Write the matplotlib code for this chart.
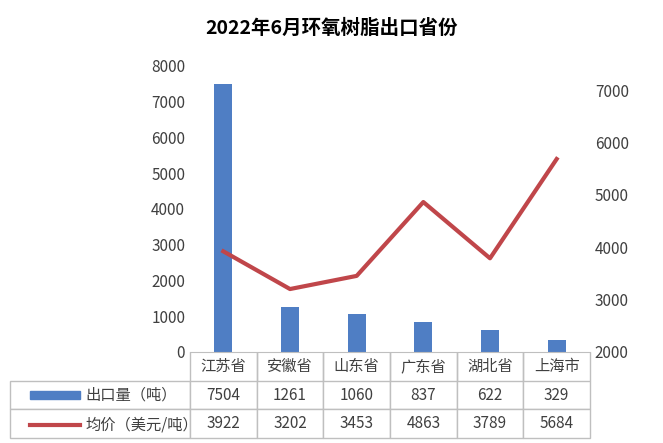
import matplotlib
matplotlib.use('Agg')
import matplotlib.pyplot as plt
from matplotlib.lines import Line2D
from matplotlib.patches import Rectangle

plt.rcParams['font.family'] = ['Noto Sans CJK SC', 'DejaVu Sans']

categories = ['江苏省', '安徽省', '山东省', '广东省', '湖北省', '上海市']
volume = [7504, 1261, 1060, 837, 622, 329]
price = [3922, 3202, 3453, 4863, 3789, 5684]
row_labels = ['出口量（吨）', '均价（美元/吨）']
title = '2022年6月环氧树脂出口省份'

bar_c = '#4f7ec4'
line_c = '#c0464a'

fig = plt.figure(figsize=(6.63, 4.43), dpi=100)
ax = fig.add_axes([190/663, 1-352/443, 400/663, 286/443])
x = list(range(len(categories)))
ax.bar(x, volume, width=0.27, color=bar_c, zorder=2)
ax.set_xlim(-0.5, len(categories)-0.5)
ax.set_ylim(0, 8000)
ax.set_yticks(range(0, 8001, 1000))
ax.set_xticks([])
ax.tick_params(axis='y', length=0, labelsize=11, colors='#404040')
for s in ['top', 'right', 'left']:
    ax.spines[s].set_visible(False)
ax.spines['bottom'].set_color('#bfbfbf')

ax2 = ax.twinx()
ax2.plot(x, price, color=line_c, lw=3, zorder=3)
ax2.set_ylim(2000, 7460)
ax2.set_yticks(range(2000, 7001, 1000))
ax2.tick_params(axis='y', length=0, labelsize=11, colors='#404040')
for s in ax2.spines.values():
    s.set_visible(False)

fig.text(0.5, 1-28/443, title, ha='center', va='center', fontsize=14, fontweight='bold')

cell_text = [[''] + categories,
             [''] + [str(v) for v in volume],
             [''] + [str(v) for v in price]]
left = (10-190)/400
tbl = ax.table(cellText=cell_text, bbox=[left, -86/286, 1-left, 86/286],
               colWidths=[180] + [400/6]*6, cellLoc='center')
tbl.auto_set_font_size(False)
tbl.set_fontsize(11)
for (r, c), cell in tbl.get_celld().items():
    cell.set_edgecolor('#bfbfbf')
    cell.get_text().set_color('#404040')
    if r == 0:
        cell.visible_edges = 'LR' if c > 0 else ''
for i, lab in enumerate(row_labels):
    yy = (-43 - 30*i)/286
    ax.text(left + 75/400, yy, lab, transform=ax.transAxes, ha='left', va='center',
            fontsize=11, color='#404040')
ax.add_patch(Rectangle((left + 20/400, -47/286), 50/400, 8/286, transform=ax.transAxes,
                       color=bar_c, clip_on=False))
ax.add_line(Line2D([left + 20/400, left + 70/400], [-73/286, -73/286], transform=ax.transAxes,
                   color=line_c, lw=3, clip_on=False))
fig.savefig('out.png', dpi=100)
